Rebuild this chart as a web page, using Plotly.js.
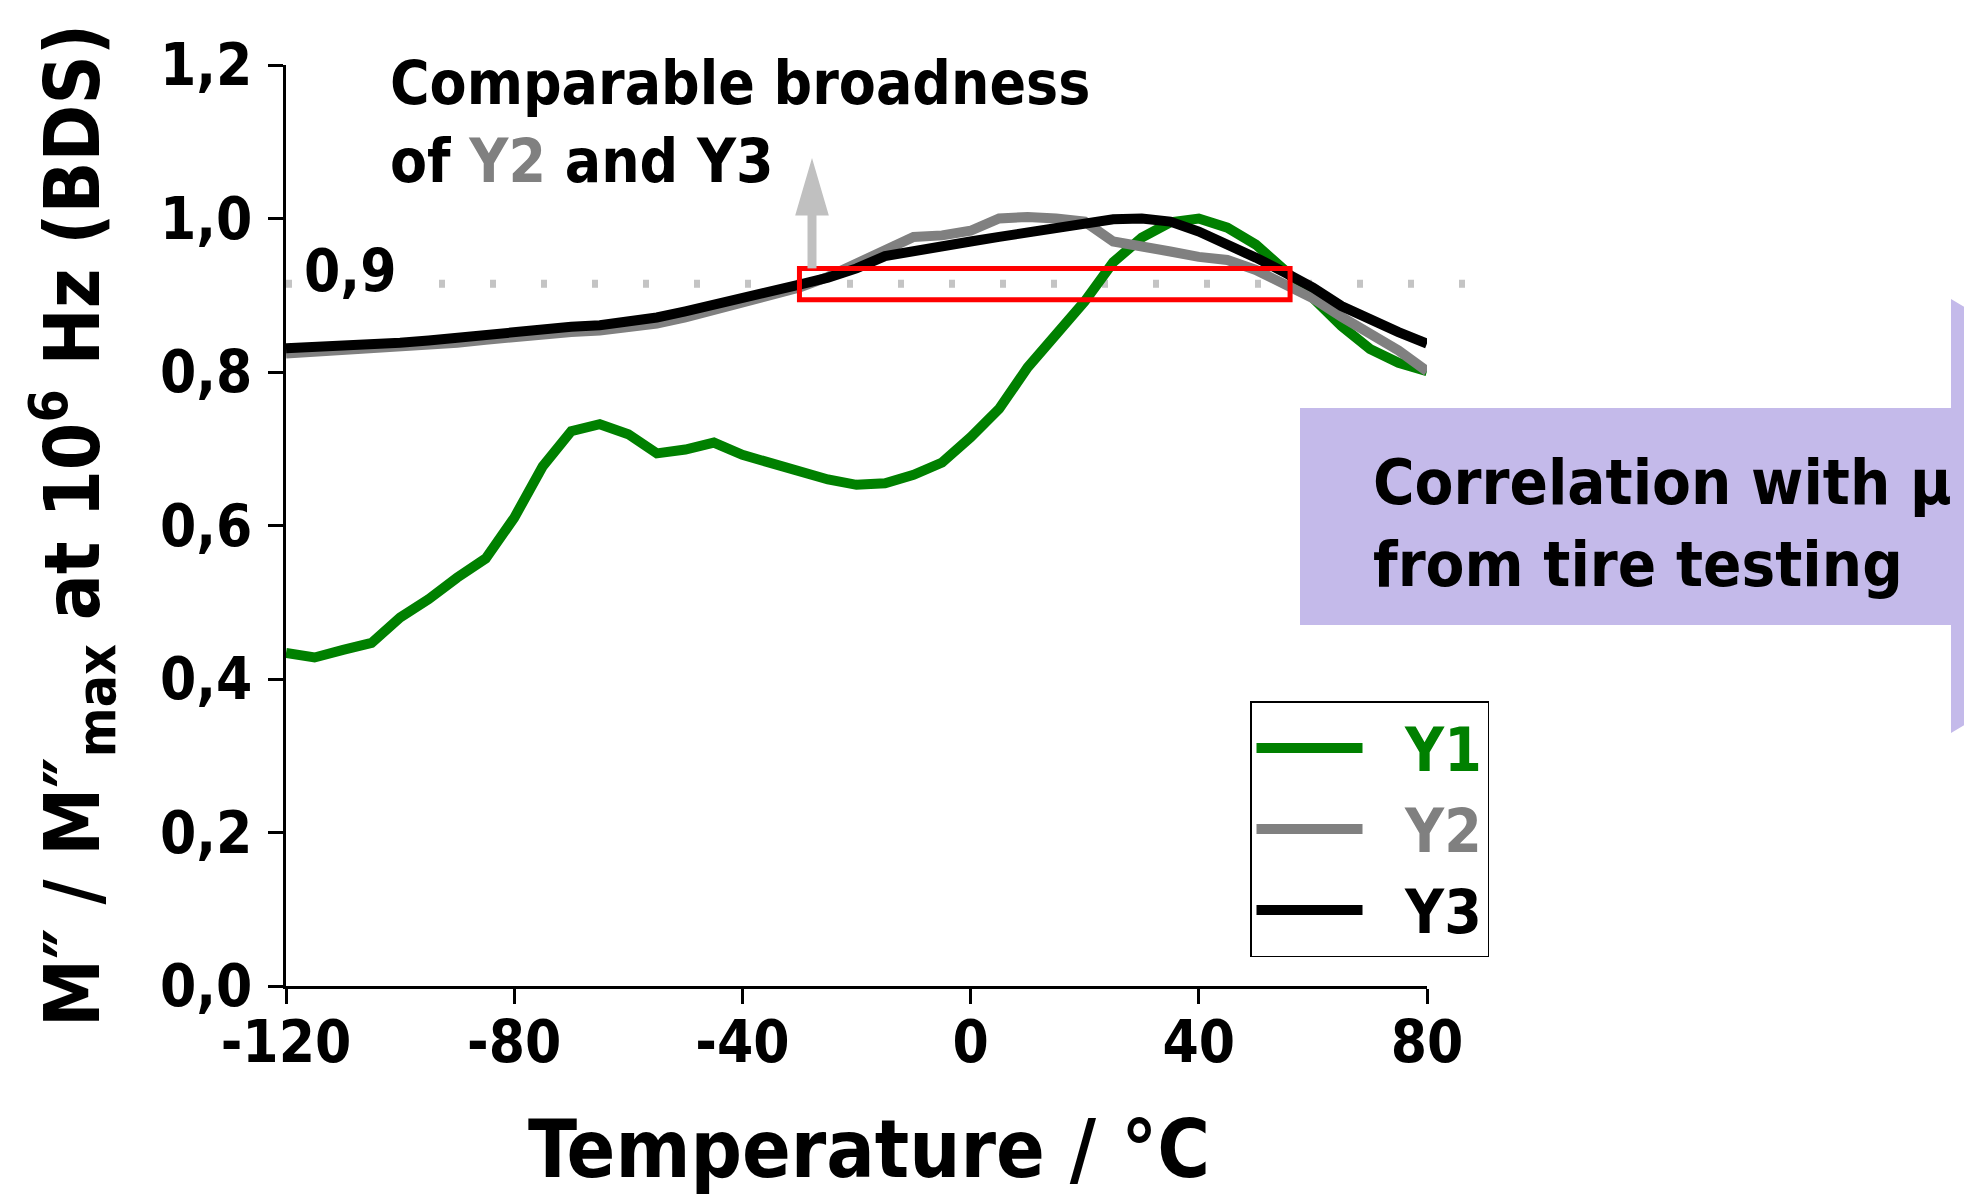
<!DOCTYPE html>
<html>
<head>
<meta charset="utf-8">
<script src="https://cdn.plot.ly/plotly-3.0.1.min.js"></script>
<style>
  html, body { margin: 0; padding: 0; background: #ffffff; }
  #chart { width: 1964px; height: 1196px; }
</style>
</head>
<body>
<div id="chart"></div>
<script>
// ---- data ----
const temperature = [-120,-115,-110,-105,-100,-95,-90,-85,-80,-75,-70,-65,-60,-55,-50,-45,-40,-35,-30,-25,-20,-15,-10,-5,0,5,10,15,20,25,30,35,40,45,50,55,60,65,70,75,80];
const y1 = [0.434,0.428,0.438,0.447,0.480,0.504,0.532,0.557,0.610,0.677,0.723,0.732,0.719,0.694,0.699,0.708,0.692,0.681,0.669,0.660,0.653,0.655,0.666,0.682,0.715,0.752,0.806,0.850,0.892,0.943,0.975,0.995,1.000,0.988,0.966,0.933,0.898,0.860,0.830,0.812,0.801];
const y2 = [0.824,0.826,0.828,0.830,0.832,0.835,0.838,0.842,0.846,0.849,0.852,0.854,0.858,0.863,0.871,0.880,0.890,0.899,0.910,0.924,0.941,0.957,0.976,0.978,0.984,1.000,1.002,1.000,0.996,0.970,0.962,0.957,0.950,0.946,0.933,0.916,0.896,0.872,0.851,0.828,0.801];
const y3 = [0.831,0.832,0.834,0.836,0.838,0.841,0.845,0.849,0.853,0.856,0.859,0.861,0.865,0.871,0.879,0.887,0.896,0.905,0.914,0.923,0.935,0.951,0.958,0.966,0.970,0.976,0.981,0.988,0.994,0.999,1.000,0.996,0.983,0.967,0.949,0.930,0.910,0.886,0.868,0.852,0.837];
const seriesNames = ["Y1", "Y2", "Y3"];
const seriesColors = ["#008000", "#808080", "#000000"];
const xTicks = [-120, -80, -40, 0, 40, 80];
const xTickLabels = ["-120", "-80", "-40", "0", "40", "80"];
const yTicks = [0, 0.2, 0.4, 0.6, 0.8, 1.0, 1.2];
const yTickLabels = ["0,0", "0,2", "0,4", "0,6", "0,8", "1,0", "1,2"];
const thresholdValue = 0.915;          // dotted "0,9" guide line
const thresholdLabel = "0,9";
const boxRange = {x0: -30, x1: 56, y0: 0.894, y1: 0.935};
const arrowX = -27.8, arrowBase = 0.935, arrowTip = 1.072;

const FONT = "'DejaVu Sans Condensed', 'DejaVu Sans', sans-serif";

const seriesY = [y1, y2, y3];
const traces = seriesY.map((ys, i) => ({
  type: 'scatter',
  mode: 'lines',
  x: temperature,
  y: ys,
  name: '\u00a0\u00a0<span style="color:' + seriesColors[i] + '">' + seriesNames[i] + '</span>',
  line: {color: seriesColors[i], width: 10},
  hoverinfo: 'x+y'
}));

// pixel helpers for paper-referenced decorations
const L = 286, R = 537, T = 65, B = 210, W = 1964, H = 1196;
const PW = W - L - R, PH = H - T - B;
const px = v => (v - L) / PW;
const py = v => (H - B - v) / PH;

const purplePath = 'M' + px(1300) + ',' + py(408) +
  ' L' + px(1951) + ',' + py(408) +
  ' L' + px(1951) + ',' + py(299) +
  ' L' + px(2310) + ',' + py(516) +
  ' L' + px(1951) + ',' + py(733) +
  ' L' + px(1951) + ',' + py(625) +
  ' L' + px(1300) + ',' + py(625) + ' Z';

const headHalf = 2.6, headBase = 1.006;
const headPath = 'M' + (arrowX - headHalf) + ',' + headBase +
  ' L' + (arrowX + headHalf) + ',' + headBase +
  ' L' + arrowX + ',' + arrowTip + ' Z';

const layout = {
  width: W, height: H,
  margin: {l: L, r: R, t: T, b: B, pad: 0},
  paper_bgcolor: '#ffffff',
  plot_bgcolor: '#ffffff',
  separators: ', ',
  font: {family: FONT, weight: 'bold', color: '#000000', size: 58},
  showlegend: true,
  legend: {
    x: px(1250), y: py(701), xanchor: 'left', yanchor: 'top',
    bgcolor: '#ffffff', bordercolor: '#000000', borderwidth: 1.5,
    font: {family: FONT, weight: 'bold', size: 60},
    itemwidth: 106,
    tracegroupgap: 0
  },
  xaxis: {
    range: [-120, 80],
    tickmode: 'array', tickvals: xTicks, ticktext: xTickLabels,
    ticks: 'outside', ticklen: 15, tickwidth: 3, tickcolor: '#000',
    showline: true, linecolor: '#000', linewidth: 3,
    showgrid: false, zeroline: false,
    ticklabelstandoff: -12,
    tickfont: {family: FONT, weight: 'bold', size: 58, color: '#000'},
    title: {text: '\u200b\u00a0Temperature / °C', font: {family: FONT, weight: 'bold', size: 80, color: '#000'}, standoff: 58}
  },
  yaxis: {
    range: [0, 1.2],
    tickmode: 'array', tickvals: yTicks, ticktext: yTickLabels,
    ticks: 'outside', ticklen: 15, tickwidth: 3, tickcolor: '#000',
    showline: true, linecolor: '#000', linewidth: 3,
    showgrid: false, zeroline: false,
    ticklabelstandoff: 4,
    tickfont: {family: FONT, weight: 'bold', size: 58, color: '#000'},
    title: {text: 'M″ / M″<sub>max</sub> at 10<sup>6</sup> Hz (BDS)', font: {family: FONT, weight: 'bold', size: 76, color: '#000'}, standoff: 36}
  },
  shapes: [
    {type: 'line', xref: 'paper', yref: 'y', x0: 0, x1: px(1466), y0: thresholdValue, y1: thresholdValue,
     line: {color: '#c4c4c4', width: 8, dash: '6px,45px'}, layer: 'below'},
    {type: 'rect', xref: 'x', yref: 'y', x0: boxRange.x0, x1: boxRange.x1, y0: boxRange.y0, y1: boxRange.y1,
     line: {color: '#ff0000', width: 5}, fillcolor: 'rgba(0,0,0,0)', layer: 'above'},
    {type: 'line', xref: 'x', yref: 'y', x0: arrowX, x1: arrowX, y0: arrowBase, y1: headBase + 0.005,
     line: {color: '#c0c0c0', width: 9}, layer: 'above'},
    {type: 'path', xref: 'x', yref: 'y', path: headPath,
     fillcolor: '#c0c0c0', line: {color: '#c0c0c0', width: 3}, layer: 'above'},
    {type: 'path', xref: 'paper', yref: 'paper', path: purplePath,
     fillcolor: '#c4baea', line: {width: 0}, layer: 'above'}
  ],
  annotations: [
    {xref: 'x', yref: 'paper', x: -108.8, y: py(271), text: thresholdLabel, showarrow: false,
     xanchor: 'center', yanchor: 'middle', bgcolor: '#ffffff', borderpad: 0,
     font: {family: FONT, weight: 'bold', size: 58, color: '#000'}},
    {xref: 'paper', yref: 'paper', x: px(388), y: py(122), xanchor: 'left', yanchor: 'middle', align: 'left',
     showarrow: false,
     text: 'Comparable broadness<br>of <span style="color:#808080">Y2</span> and Y3',
     font: {family: FONT, weight: 'bold', size: 60, color: '#000'}},
    {xref: 'paper', yref: 'paper', x: px(1371), y: py(523), xanchor: 'left', yanchor: 'middle', align: 'left',
     showarrow: false,
     text: 'Correlation with μ<br>from tire testing',
     font: {family: FONT, weight: 'bold', size: 63, color: '#000'}}
  ]
};

Plotly.newPlot('chart', traces, layout, {displayModeBar: false, staticPlot: true});
</script>
</body>
</html>
